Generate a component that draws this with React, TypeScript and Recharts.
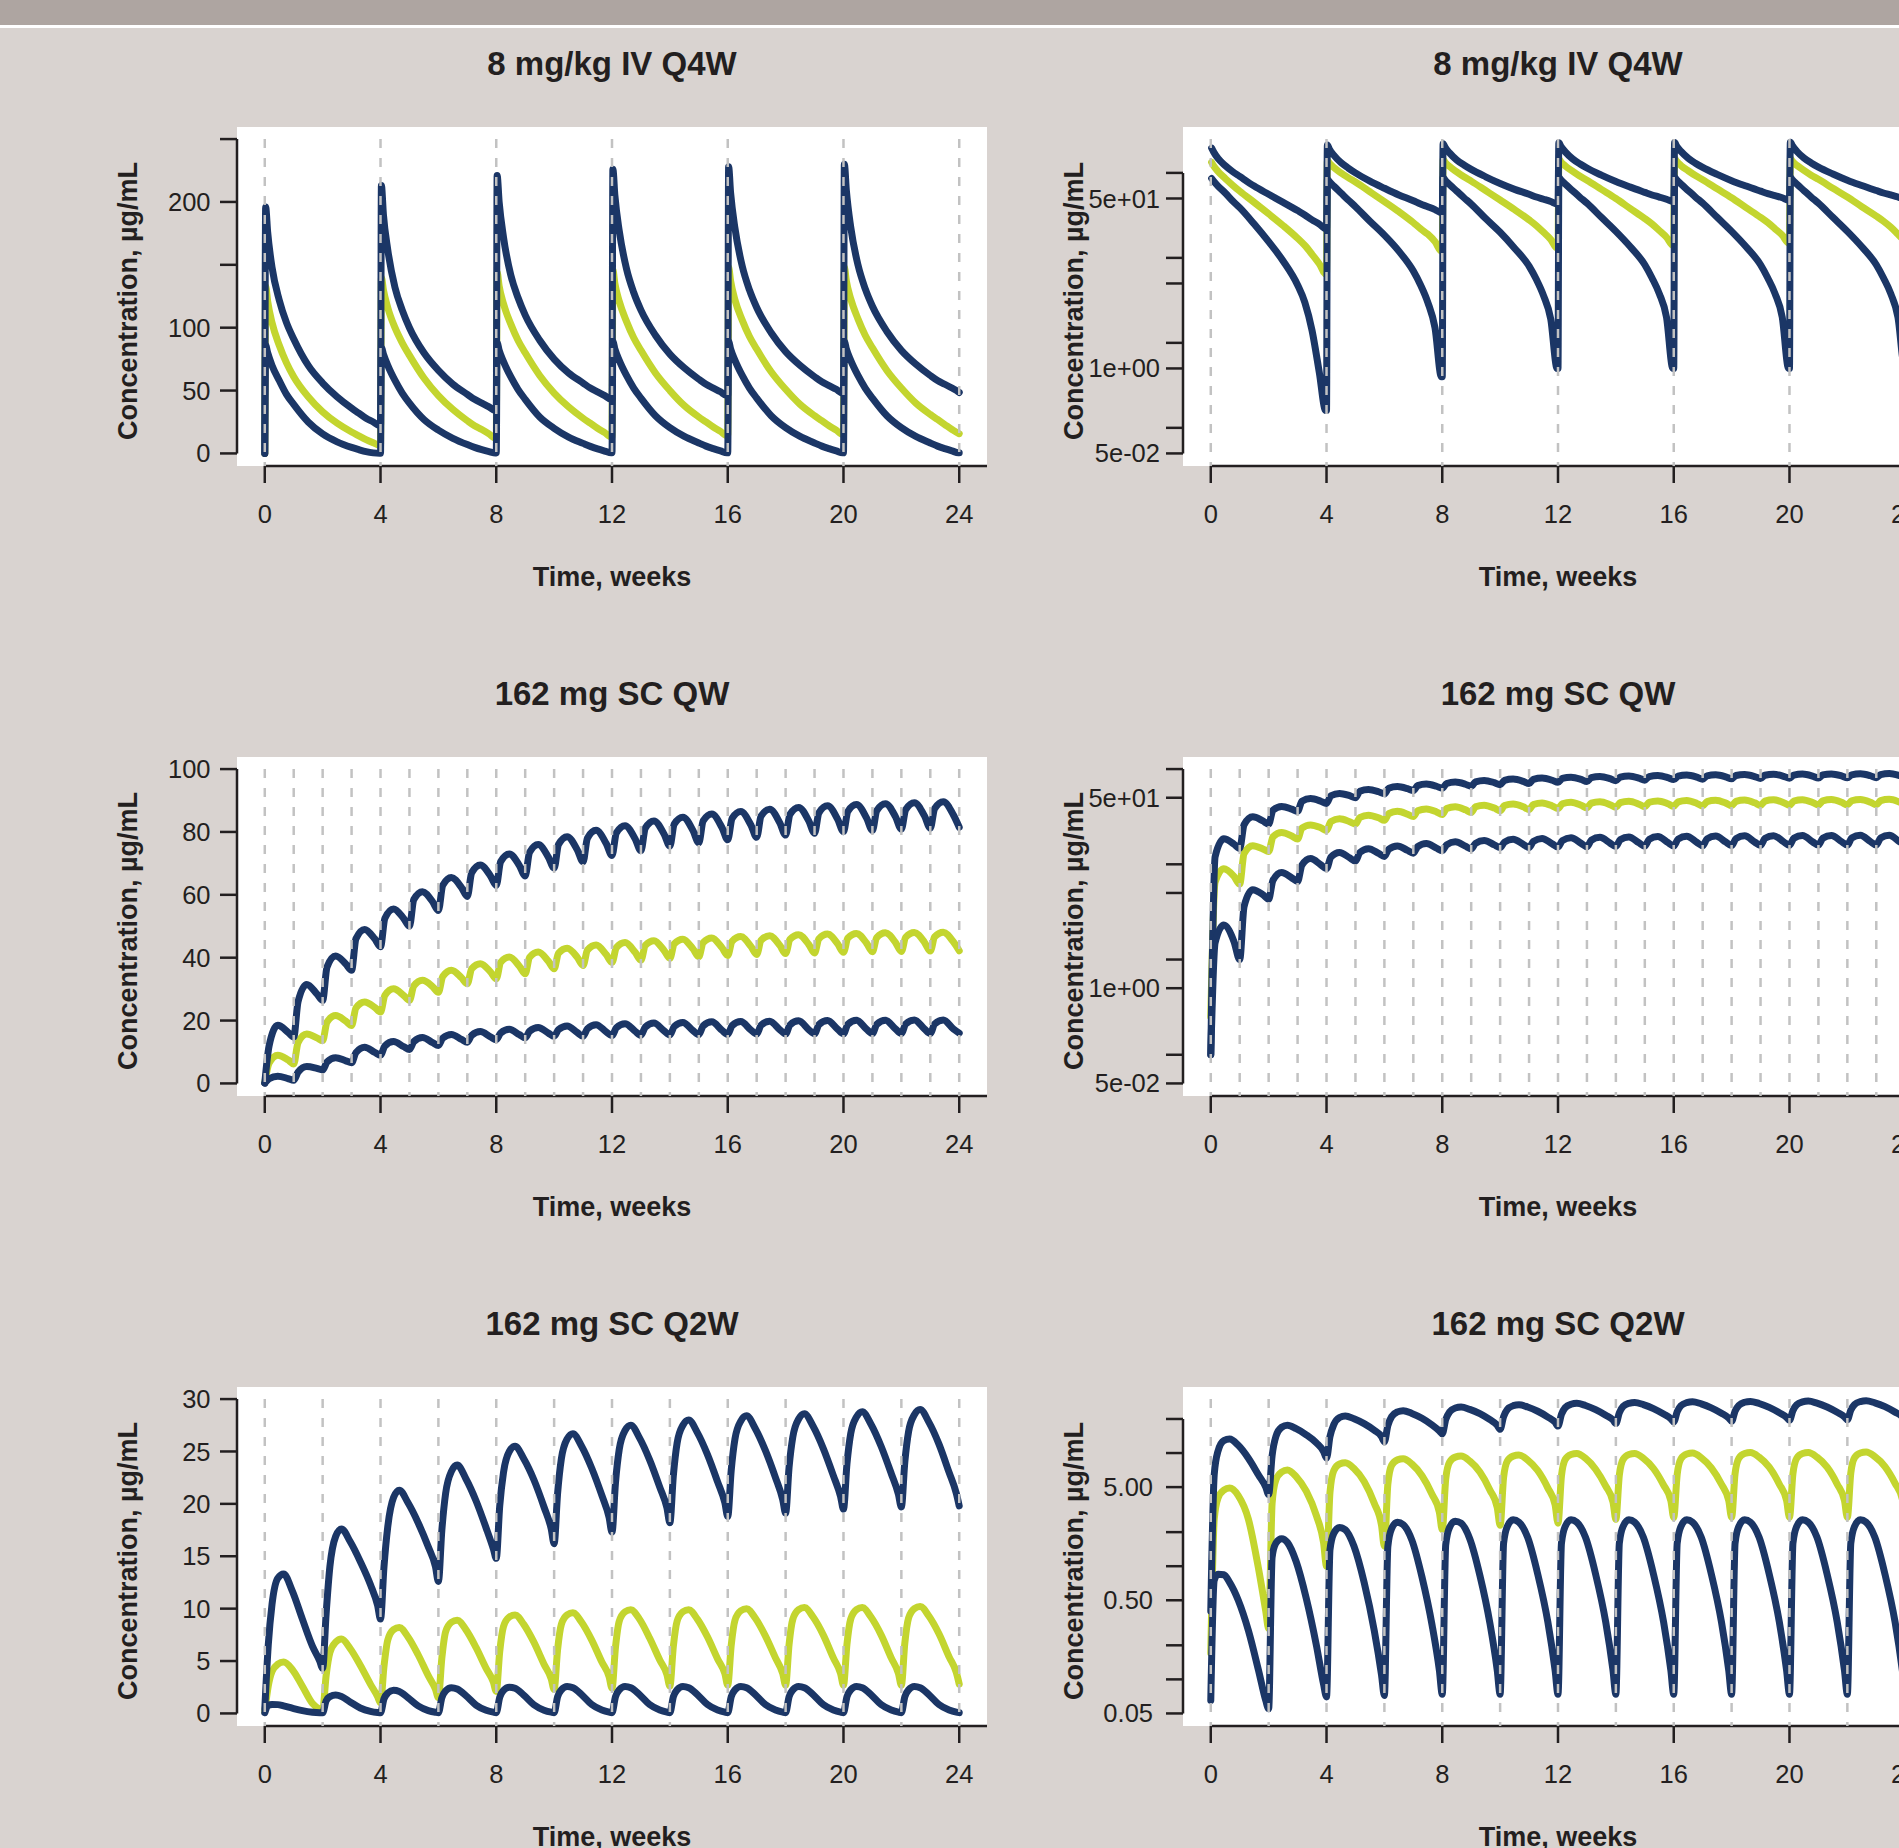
import React from 'react';
import { LineChart, Line, XAxis, YAxis, ReferenceLine } from 'recharts';

const NAVY = '#1b3666';
const LIME = '#c3d52f';
const GUIDE = '#c2c2c2';
const INK = '#231f20';
const PAGE = '#d9d3d0';
const FONT = "'Liberation Sans', Arial, Helvetica, sans-serif";

const weekTicks = [0, 4, 8, 12, 16, 20, 24];
const everyWeek = [0, 1, 2, 3, 4, 5, 6, 7, 8, 9, 10, 11, 12, 13, 14, 15, 16, 17, 18, 19, 20, 21, 22, 23, 24];
const everyTwoWeeks = [0, 2, 4, 6, 8, 10, 12, 14, 16, 18, 20, 22, 24];

// 8 mg/kg IV Q4W: trough, peak, then the decay, read per dosing cycle
const ivDoses = [0, 4, 8, 12, 16, 20];
const ivOffsets = [0, 0.03, 0.1, 0.25, 0.5, 0.75, 1, 1.5, 2, 2.5, 3, 3.25, 3.5, 3.75, 3.97];
const ivHigh = [
  0, 196, 176, 148, 122, 104, 91, 70, 56, 45, 36, 32, 28, 25, 22,
  22, 213, 190, 162, 132, 114, 100, 80, 66, 55, 47, 43, 40, 37, 34,
  34, 221, 200, 172, 142, 124, 110, 90, 75, 64, 56, 52, 49, 46, 43,
  43, 226, 205, 177, 147, 128, 114, 94, 79, 68, 59, 55, 52, 49, 46,
  46, 228, 207, 179, 149, 130, 116, 96, 81, 70, 61, 57, 54, 51, 48,
  48, 230, 209, 180, 150, 131, 117, 97, 82, 71, 62, 58, 55, 52, 49,
  48.5,
];
const ivMedian = [
  0, 133, 121, 104, 86, 72, 61, 45, 33, 24, 17, 14, 11, 8.5, 6.5,
  6.5, 140, 130, 116, 100, 88, 78, 60, 46, 35, 26, 22, 19, 15.5, 12,
  12, 144, 133, 119, 103, 90, 80, 62, 48, 37, 28, 24, 20, 16.5, 13,
  13, 146, 135, 121, 105, 92, 82, 64, 50, 38, 29, 25, 21, 17.5, 14,
  14, 148, 137, 122, 106, 93, 83, 65, 51, 39, 30, 26, 22, 18.5, 15,
  15, 148, 137, 123, 107, 94, 84, 66, 52, 40, 31, 27, 23, 19, 16,
  15.7,
];
const ivLow = [
  0, 86, 80, 70, 58, 47, 39, 25, 15.5, 9.2, 4.8, 3.0, 1.4, 0.45, 0.16,
  0.16, 84, 79, 70, 58, 48, 40, 27, 18.5, 12, 7, 4.8, 3.0, 1.5, 0.4,
  0.4, 88, 82, 73, 61, 51, 43, 29, 20, 13, 8, 5.6, 3.6, 1.9, 0.5,
  0.5, 89, 83, 74, 62, 52, 44, 30, 20.5, 13.5, 8.3, 5.8, 3.8, 2.0, 0.5,
  0.5, 89, 83, 74, 62, 52, 44, 30, 20.5, 13.5, 8.3, 5.8, 3.8, 2.0, 0.5,
  0.5, 89, 83, 74, 62, 52, 44, 30, 20.5, 13.5, 8.3, 5.8, 3.8, 2.0, 0.55,
  0.55,
];

// 162 mg SC QW
const qwDoses = [0, 1, 2, 3, 4, 5, 6, 7, 8, 9, 10, 11, 12, 13, 14, 15, 16, 17, 18, 19, 20, 21, 22, 23];
const qwOffsets = [0, 0.15, 0.45, 0.8];
const qwHigh = [
  0.1, 12, 18.5, 16.3, 14.7, 26, 31.5, 28.5, 26.4, 37, 40.5, 38, 36, 46, 49, 46,
  43.5, 52.5, 55.5, 52.5, 50, 58.5, 61, 57.8, 55, 63, 65.5, 62.3, 59.5, 67, 69.5, 66,
  63, 70.5, 73, 69.3, 66, 73.5, 76, 72, 68.5, 76, 78.5, 74.3, 70.5, 78, 80.5, 76.3,
  72.5, 79.7, 82, 77.8, 74, 81.2, 83.5, 79.3, 75.5, 82.5, 84.7, 80.4, 76.5, 83.5, 85.7, 81.4,
  77.5, 84.3, 86.5, 82.2, 78.3, 85, 87.2, 82.9, 79, 85.6, 87.8, 83.5, 79.6, 86.1, 88.3, 84,
  80.1, 86.5, 88.7, 84.4, 80.5, 86.8, 89, 84.8, 80.9, 87.1, 89.3, 85.1, 81.2, 87.4, 89.6, 85.4,
  81.5,
];
const qwMedian = [
  0.25, 6.5, 9, 7.5, 6.2, 13, 15.7, 14.5, 13.6, 19.5, 21.6, 19.8, 18.4, 24, 25.9, 24.2,
  22.7, 28, 30.1, 28, 26.4, 31, 32.8, 30.8, 29, 34, 36, 33.6, 31.7, 36.5, 38.1, 35.5,
  33.3, 38.5, 40.2, 37.3, 34.9, 40.1, 41.8, 38.9, 36.5, 41.4, 43, 40.1, 37.5, 42.4, 44, 41,
  38.5, 43.2, 44.8, 41.7, 39.2, 43.9, 45.4, 42.3, 39.8, 44.4, 45.9, 42.8, 40.3, 44.8, 46.3, 43.2,
  40.7, 45.2, 46.7, 43.6, 41, 45.5, 47, 43.9, 41.3, 45.8, 47.3, 44.2, 41.5, 46, 47.5, 44.4,
  41.7, 46.2, 47.7, 44.6, 41.9, 46.4, 47.9, 44.8, 42, 46.5, 48, 44.9, 42.1, 46.6, 48.1, 45,
  42.2,
];
const qwLow = [
  0.1, 1.5, 2.3, 1.55, 1.0, 3.6, 5.4, 4.8, 4.3, 6.8, 8.2, 7.2, 6.6, 9.8, 11.5, 9.9,
  9, 11.9, 13.3, 11.7, 10.8, 13.3, 14.6, 13, 12.1, 14.4, 15.6, 14, 13.1, 15.3, 16.5, 14.8,
  13.9, 16, 17.2, 15.5, 14.5, 16.6, 17.8, 16, 15, 17.1, 18.3, 16.2, 15, 17.4, 18.7, 16.4,
  15.2, 17.7, 19, 16.6, 15.3, 17.9, 19.2, 16.7, 15.4, 18.1, 19.4, 16.8, 15.5, 18.3, 19.6, 16.9,
  15.6, 18.4, 19.7, 17, 15.7, 18.5, 19.8, 17.1, 15.7, 18.6, 19.9, 17.1, 15.8, 18.7, 20, 17.2,
  15.8, 18.8, 20.1, 17.2, 15.9, 18.8, 20.1, 17.3, 15.9, 18.9, 20.2, 17.3, 15.9, 18.9, 20.2, 17.3,
  16,
];

// 162 mg SC Q2W
const q2Doses = [0, 2, 4, 6, 8, 10, 12, 14, 16, 18, 20, 22];
const q2Offsets = [0, 0.12, 0.25, 0.45, 0.65, 0.95, 1.3, 1.65, 1.9];
const q2High = [
  0.4, 6.5, 10.4, 12.9, 13.3, 11.7, 9.0, 6.4, 5.0,
  4.3, 9.5, 14, 16.9, 17.6, 16.4, 14.5, 12.3, 10.3,
  9.0, 14, 17.8, 20.6, 21.3, 20.1, 18.2, 15.9, 14.0,
  12.6, 17.5, 21, 23.1, 23.7, 22.4, 20.3, 17.7, 15.7,
  14.8, 19.8, 23, 25, 25.5, 24.3, 22.3, 19.7, 17.6,
  16.2, 21, 24.3, 26.2, 26.7, 25.5, 23.4, 20.8, 18.7,
  17.3, 22, 25.2, 27, 27.5, 26.3, 24.2, 21.6, 19.6,
  18.2, 22.7, 25.8, 27.5, 28, 26.8, 24.7, 22.1, 20.1,
  18.8, 23.2, 26.2, 27.9, 28.4, 27.2, 25.1, 22.5, 20.4,
  19.1, 23.5, 26.4, 28.1, 28.6, 27.4, 25.3, 22.7, 20.7,
  19.5, 23.8, 26.7, 28.3, 28.8, 27.6, 25.5, 22.9, 20.9,
  19.7, 24, 26.9, 28.5, 29, 27.8, 25.7, 23, 21,
  19.8,
];
const q2Median = [
  0.17, 2.6, 4.0, 4.7, 4.9, 4.2, 2.6, 0.95, 0.4,
  0.28, 3.6, 5.8, 6.8, 7.1, 6.2, 4.6, 2.8, 1.6,
  1.0, 4.5, 7.0, 8.0, 8.2, 7.3, 5.6, 3.6, 2.3,
  1.5, 5.3, 7.8, 8.7, 8.9, 8.0, 6.3, 4.3, 3.0,
  2.1, 5.9, 8.3, 9.2, 9.4, 8.5, 6.8, 4.7, 3.3,
  2.3, 6.1, 8.5, 9.4, 9.6, 8.7, 7.0, 4.9, 3.5,
  2.4, 6.3, 8.8, 9.7, 9.9, 9.0, 7.2, 5.1, 3.7,
  2.6, 6.4, 8.8, 9.7, 9.9, 9.0, 7.3, 5.2, 3.8,
  2.7, 6.5, 8.9, 9.8, 10, 9.1, 7.4, 5.3, 3.8,
  2.7, 6.6, 9.0, 9.9, 10.1, 9.2, 7.5, 5.3, 3.8,
  2.7, 6.6, 9.0, 9.9, 10.1, 9.2, 7.5, 5.3, 3.8,
  2.7, 6.7, 9.1, 10.0, 10.2, 9.3, 7.6, 5.4, 3.9,
  2.8,
];
const q2Low = [
  0.065, 0.75, 0.85, 0.84, 0.72, 0.5, 0.27, 0.12, 0.065,
  0.055, 1.2, 1.6, 1.75, 1.62, 1.1, 0.52, 0.2, 0.09,
  0.07, 1.4, 1.95, 2.2, 2.1, 1.5, 0.72, 0.27, 0.11,
  0.072, 1.5, 2.15, 2.45, 2.33, 1.7, 0.8, 0.3, 0.12,
  0.074, 1.55, 2.2, 2.5, 2.4, 1.75, 0.83, 0.31, 0.12,
  0.074, 1.6, 2.25, 2.57, 2.45, 1.8, 0.85, 0.32, 0.12,
  0.074, 1.6, 2.25, 2.57, 2.45, 1.8, 0.85, 0.32, 0.12,
  0.074, 1.6, 2.25, 2.57, 2.45, 1.8, 0.85, 0.32, 0.12,
  0.074, 1.6, 2.25, 2.57, 2.45, 1.8, 0.85, 0.32, 0.12,
  0.074, 1.6, 2.25, 2.57, 2.45, 1.8, 0.85, 0.32, 0.12,
  0.074, 1.6, 2.25, 2.57, 2.45, 1.8, 0.85, 0.32, 0.12,
  0.074, 1.6, 2.25, 2.57, 2.45, 1.8, 0.85, 0.32, 0.12,
  0.074,
];

// y axes
const linIvTicks = [0, 50, 100, 150, 200, 250];
const linIvLabels: Record<string, string> = { '0': '0', '50': '50', '100': '100', '200': '200' };
const linQwTicks = [0, 20, 40, 60, 80, 100];
const linQwLabels: Record<string, string> = { '0': '0', '20': '20', '40': '40', '60': '60', '80': '80', '100': '100' };
const linQ2Ticks = [0, 5, 10, 15, 20, 25, 30];
const linQ2Labels: Record<string, string> = { '0': '0', '5': '5', '10': '10', '15': '15', '20': '20', '25': '25', '30': '30' };
const logTicks = [0.05, 0.1, 0.5, 1, 5, 10, 50, 100];
const logLabels: Record<string, string> = { '0.05': '5e-02', '0.5': '1e+00', '50': '5e+01' };
const logQ2Ticks = [0.05, 0.1, 0.2, 0.5, 1, 2, 5, 10, 20];
const logQ2Labels: Record<string, string> = { '0.05': '0.05', '0.5': '0.50', '5': '5.00' };

type Pt = { t: number; v: number };

const buildSeries = (doses: number[], offsets: number[], values: number[]): Pt[] => {
  const times = doses.flatMap((d) => offsets.map((o) => Math.round((d + o) * 1000) / 1000));
  times.push(24);
  return times.map((t, i) => ({ t, v: values[i] }));
};

const X_MIN = -0.96;
const X_MAX = 24.96;

interface PanelSpec {
  title: string;
  col: number;
  row: number;
  scale: 'linear' | 'log';
  domain: [number, number];
  yTicks: number[];
  yLabels: Record<string, string>;
  axisSpan: [number, number];
  guideTop: number;
  guides: number[];
  labelGap: number;
  median: Pt[];
  high: Pt[];
  low: Pt[];
}

const Panel = ({ spec }: { spec: PanelSpec }) => {
  const left = spec.col === 0 ? 0 : 946;
  const top = spec.row * 630;
  const yMin = spec.domain[0];
  const keep = (pts: Pt[]) => (spec.scale === 'log' ? pts.filter((p) => p.v > 0) : pts);
  const tickStyle = { fontSize: 25.5, fill: INK, fontFamily: FONT };
  const lineProps = {
    dataKey: 'v',
    type: 'monotone' as const,
    strokeWidth: 7,
    dot: false,
    activeDot: false,
    isAnimationActive: false,
    strokeLinecap: 'round' as const,
    strokeLinejoin: 'round' as const,
  };

  return (
    <>
      <div
        style={{ position: 'absolute', left: left + 237, top: top + 126.5, width: 750, height: 339.5, background: '#fff' }}
      />
      <div style={{ position: 'absolute', left, top }}>
        <LineChart width={1000} height={630} margin={{ top: 126.5, right: 13, bottom: 134, left: 177 }}>
          <XAxis
            type="number"
            dataKey="t"
            domain={[X_MIN, X_MAX]}
            allowDataOverflow
            ticks={weekTicks}
            interval={0}
            axisLine={false}
            tickLine={{ stroke: INK, strokeWidth: 2.5 }}
            tickSize={17}
            tickMargin={22}
            tick={tickStyle}
            height={30}
          />
          <YAxis
            type="number"
            dataKey="v"
            scale={spec.scale}
            domain={spec.domain}
            allowDataOverflow
            ticks={spec.yTicks}
            interval={0}
            axisLine={false}
            tickLine={{ stroke: INK, strokeWidth: 2.5 }}
            tickSize={17}
            tickMargin={spec.labelGap}
            tick={tickStyle}
            tickFormatter={(v: number) => spec.yLabels[String(v)] ?? ''}
            width={60}
          />
          <ReferenceLine
            segment={[{ x: X_MIN, y: spec.axisSpan[0] }, { x: X_MIN, y: spec.axisSpan[1] }]}
            stroke={INK}
            strokeWidth={2.5}
            ifOverflow="visible"
          />
          <ReferenceLine
            segment={[{ x: 0, y: yMin }, { x: X_MAX, y: yMin }]}
            stroke={INK}
            strokeWidth={2.5}
            ifOverflow="visible"
          />
          <Line {...lineProps} data={keep(spec.median)} stroke={LIME} />
          <Line {...lineProps} data={keep(spec.high)} stroke={NAVY} />
          <Line {...lineProps} data={keep(spec.low)} stroke={NAVY} />
          {spec.guides.map((d) => (
            <Line
              key={`g-${d}`}
              data={[{ t: d, v: spec.guideTop }, { t: d, v: yMin }]}
              dataKey="v"
              type="linear"
              stroke={GUIDE}
              strokeWidth={2.5}
              strokeDasharray="9 10"
              dot={false}
              activeDot={false}
              isAnimationActive={false}
            />
          ))}
        </LineChart>
      </div>
      <div
        style={{
          position: 'absolute',
          left: left + 612,
          top: top + 63,
          transform: 'translate(-50%, -50%)',
          font: `bold 33px ${FONT}`,
          lineHeight: 1,
          color: INK,
          whiteSpace: 'nowrap',
        }}
      >
        {spec.title}
      </div>
      <div
        style={{
          position: 'absolute',
          left: left + 612,
          top: top + 577,
          transform: 'translate(-50%, -50%)',
          font: `bold 27px ${FONT}`,
          lineHeight: 1,
          color: INK,
          whiteSpace: 'nowrap',
        }}
      >
        Time, weeks
      </div>
      <div
        style={{
          position: 'absolute',
          left: left + 127.5,
          top: top + 301,
          transform: 'translate(-50%, -50%) rotate(-90deg)',
          font: `bold 27px ${FONT}`,
          lineHeight: 1,
          color: INK,
          whiteSpace: 'nowrap',
        }}
      >
        Concentration, µg/mL
      </div>
    </>
  );
};

const ivSeries = {
  median: buildSeries(ivDoses, ivOffsets, ivMedian),
  high: buildSeries(ivDoses, ivOffsets, ivHigh),
  low: buildSeries(ivDoses, ivOffsets, ivLow),
};
const qwSeries = {
  median: buildSeries(qwDoses, qwOffsets, qwMedian),
  high: buildSeries(qwDoses, qwOffsets, qwHigh),
  low: buildSeries(qwDoses, qwOffsets, qwLow),
};
const q2Series = {
  median: buildSeries(q2Doses, q2Offsets, q2Median),
  high: buildSeries(q2Doses, q2Offsets, q2High),
  low: buildSeries(q2Doses, q2Offsets, q2Low),
};

const panels: PanelSpec[] = [
  {
    title: '8 mg/kg IV Q4W', col: 0, row: 0, scale: 'linear', domain: [-10, 260],
    yTicks: linIvTicks, yLabels: linIvLabels, axisSpan: [0, 250], guideTop: 250, guides: weekTicks, labelGap: 9.5,
    ...ivSeries,
  },
  {
    title: '8 mg/kg IV Q4W', col: 1, row: 0, scale: 'log', domain: [Math.pow(10, -1.449), Math.pow(10, 2.546)],
    yTicks: logTicks, yLabels: logLabels, axisSpan: [0.05, 100], guideTop: 250, guides: weekTicks, labelGap: 6,
    ...ivSeries,
  },
  {
    title: '162 mg SC QW', col: 0, row: 1, scale: 'linear', domain: [-4, 104],
    yTicks: linQwTicks, yLabels: linQwLabels, axisSpan: [0, 100], guideTop: 100, guides: everyWeek, labelGap: 9.5,
    ...qwSeries,
  },
  {
    title: '162 mg SC QW', col: 1, row: 1, scale: 'log', domain: [Math.pow(10, -1.433), Math.pow(10, 2.132)],
    yTicks: logTicks, yLabels: logLabels, axisSpan: [0.05, 100], guideTop: 100, guides: everyWeek, labelGap: 6,
    ...qwSeries,
  },
  {
    title: '162 mg SC Q2W', col: 0, row: 2, scale: 'linear', domain: [-1.2, 31.2],
    yTicks: linQ2Ticks, yLabels: linQ2Labels, axisSpan: [0, 30], guideTop: 30, guides: everyTwoWeeks, labelGap: 9.5,
    ...q2Series,
  },
  {
    title: '162 mg SC Q2W', col: 1, row: 2, scale: 'log', domain: [Math.pow(10, -1.412), Math.pow(10, 1.588)],
    yTicks: logQ2Ticks, yLabels: logQ2Labels, axisSpan: [0.05, 20], guideTop: 30, guides: everyTwoWeeks, labelGap: 13,
    ...q2Series,
  },
];

export default function App() {
  return (
    <div
      style={{
        position: 'absolute',
        left: 0,
        top: 0,
        width: 1899,
        height: 1848,
        overflow: 'hidden',
        background: PAGE,
        fontFamily: FONT,
      }}
    >
      <div style={{ position: 'absolute', left: 0, top: 0, width: 1899, height: 25, background: '#aea5a1' }} />
      <div style={{ position: 'absolute', left: 0, top: 25, width: 1899, height: 3, background: '#ffffff' }} />
      {panels.map((p) => (
        <Panel key={`${p.row}-${p.col}`} spec={p} />
      ))}
    </div>
  );
}
